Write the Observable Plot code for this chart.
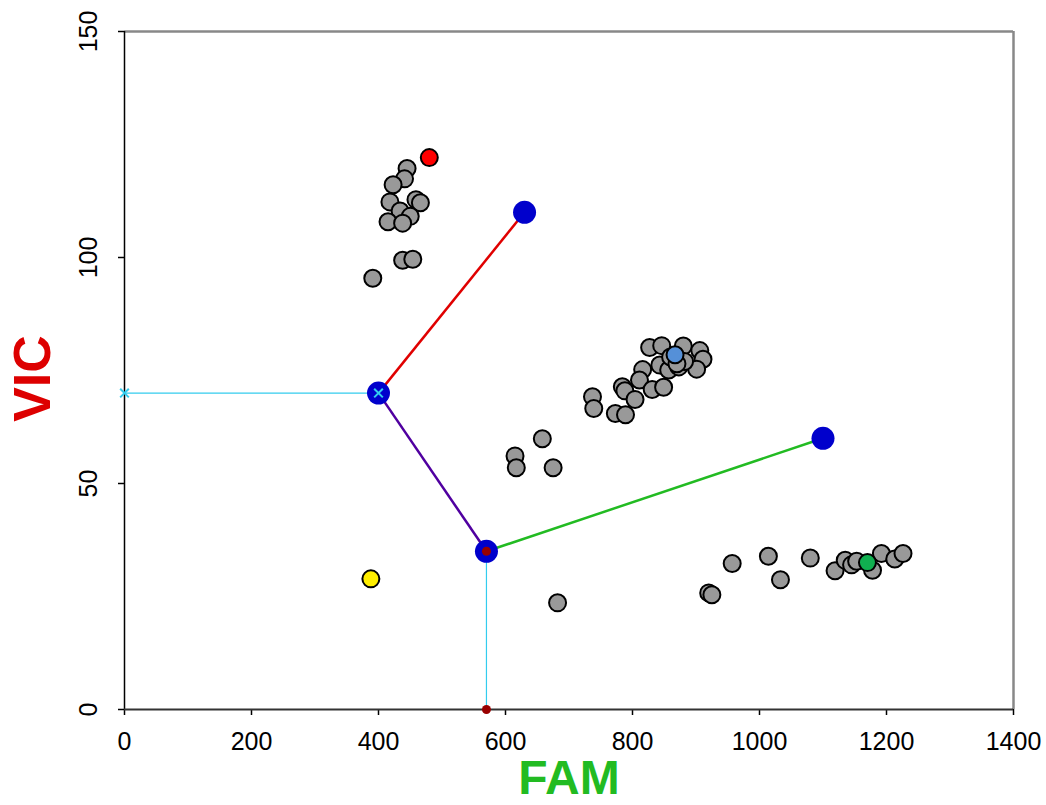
<!DOCTYPE html>
<html>
<head>
<meta charset="utf-8">
<script src="https://cdn.jsdelivr.net/npm/d3@7"></script>
<script src="https://cdn.jsdelivr.net/npm/@observablehq/plot@0.6"></script>
<style>
  html, body { margin: 0; padding: 0; background: #fff; }
  #chart svg { display: block; font-family: "Liberation Sans", Arial, sans-serif; }
</style>
</head>
<body>
<div id="chart"></div>
<script>
// Gray observations (FAM, VIC)
const grayFam = [445, 441, 423, 459, 466, 418, 434, 450, 415, 438, 438, 454, 391,
  827, 846, 880, 906, 911, 901, 843, 857, 873, 882, 816, 811, 784, 788, 831, 849, 804, 737, 739, 773, 789, 860, 870,
  615, 617, 658, 675, 682,
  920, 925, 957, 1014, 1033, 1080, 1119, 1135, 1145, 1153, 1178, 1192, 1213, 1226];
const grayVic = [119.7, 117.4, 116.1, 112.8, 112.1, 112.3, 110.3, 109.1, 107.9, 107.6, 99.4, 99.6, 95.4,
  80.1, 80.5, 80.4, 79.4, 77.5, 75.3, 76.2, 75.1, 75.8, 77, 75.2, 72.9, 71.4, 70.5, 70.8, 71.3, 68.6, 69.2, 66.6, 65.5, 65.2, 78, 76.5,
  56.1, 53.5, 59.9, 53.5, 23.6,
  25.8, 25.4, 32.3, 33.9, 28.7, 33.5, 30.7, 33.0, 32.0, 32.8, 30.8, 34.5, 33.3, 34.5];

// Highlighted observations
const highlightFam = [480, 867, 1170, 388];
const highlightVic = [122.1, 78.5, 32.5, 28.9];
const highlightColor = ["#ff0000", "#5590d8", "#10b050", "#ffee00"];

// Centroids
const centroidFam = [630, 400, 570, 1100];
const centroidVic = [110, 70, 35, 60];

// Tree edges: from (index) -> to (index) in centroid arrays
const edgeFrom = [1, 1, 2];
const edgeTo = [0, 2, 3];
const edgeColor = ["#e00000", "#5000a0", "#22bb22"];

// Projection guides
const guideFam = [[0, 400], [570, 570]];
const guideVic = [[70, 70], [35, 0]];
const crossFam = [0, 400];
const crossVic = [70, 70];
const dotFam = [570, 570];
const dotVic = [35, 0];

const xTicks = [0, 200, 400, 600, 800, 1000, 1200, 1400];
const yTicks = [0, 50, 100, 150];

const gray = grayFam.map((f, i) => ({fam: f, vic: grayVic[i]}));
const highlights = highlightFam.map((f, i) => ({fam: f, vic: highlightVic[i], c: highlightColor[i]}));
const centroids = centroidFam.map((f, i) => ({fam: f, vic: centroidVic[i]}));
const edges = edgeFrom.map((a, i) => ({x1: centroidFam[a], y1: centroidVic[a], x2: centroidFam[edgeTo[i]], y2: centroidVic[edgeTo[i]], c: edgeColor[i]}));
const guides = guideFam.map((g, i) => ({x1: g[0], x2: g[1], y1: guideVic[i][0], y2: guideVic[i][1]}));
const crosses = crossFam.map((f, i) => ({fam: f, vic: crossVic[i]}));
const dots = dotFam.map((f, i) => ({fam: f, vic: dotVic[i]}));

const chart = Plot.plot({
  width: 1046,
  height: 805,
  marginLeft: 124,
  marginRight: 33,
  marginTop: 31,
  marginBottom: 96,
  x: {domain: [0, 1400]},
  y: {domain: [0, 150]},
  style: {fontFamily: "Liberation Sans, Arial, sans-serif", background: "#fff"},
  marks: [
    // frame
    Plot.ruleY([150], {stroke: "#888", strokeWidth: 2.5}),
    Plot.ruleX([1400], {stroke: "#888", strokeWidth: 2.5}),
    Plot.axisX({ticks: xTicks, tickSize: 6, tickFormat: () => "", label: null, stroke: "#000", strokeWidth: 1.5}),
    Plot.axisY({ticks: yTicks, tickSize: 6, tickFormat: () => "", label: null, stroke: "#000", strokeWidth: 1.5}),
    Plot.ruleX([0], {stroke: "#000", strokeWidth: 1.5}),
    Plot.ruleY([0], {stroke: "#333", strokeWidth: 2}),
    // tick labels
    Plot.text(xTicks, {x: d => d, frameAnchor: "bottom", dy: 32, text: d => String(d), fontSize: 25, fill: "#000", lineAnchor: "middle"}),
    Plot.text(yTicks, {y: d => d, frameAnchor: "left", dx: -36, text: d => String(d), fontSize: 25, fill: "#000", rotate: -90, textAnchor: "middle", lineAnchor: "middle"}),
    // axis titles
    Plot.text(["FAM"], {frameAnchor: "bottom", dy: 69, text: d => d, fontSize: 48, fontWeight: "bold", fill: "#22bb22", textAnchor: "middle", lineAnchor: "middle"}),
    Plot.text(["VIC"], {frameAnchor: "left", dx: -91, dy: 8, text: d => d, fontSize: 52, fontWeight: "bold", fill: "#dd0000", rotate: -90, textAnchor: "middle", lineAnchor: "middle"}),
    // guides
    Plot.link(guides, {x1: "x1", y1: "y1", x2: "x2", y2: "y2", stroke: "#33ccee", strokeWidth: 1.2}),
    // edges
    Plot.link(edges, {x1: "x1", y1: "y1", x2: "x2", y2: "y2", stroke: "c", strokeWidth: 2.5}),
    // gray observations
    Plot.dot(gray, {x: "fam", y: "vic", r: 8.5, fill: "#999", stroke: "#000", strokeWidth: 2}),
    Plot.dot(highlights, {x: "fam", y: "vic", r: 8.5, fill: "c", stroke: "#000", strokeWidth: 2}),
    // centroids
    Plot.dot(centroids, {x: "fam", y: "vic", r: 11.5, fill: "#0000cc", stroke: "none"}),
    Plot.dot(crosses, {x: "fam", y: "vic", symbol: "times", r: 4, stroke: "#33ccee", strokeWidth: 2}),
    Plot.dot(dots, {x: "fam", y: "vic", r: 4.5, fill: "#990000", stroke: "none"})
  ]
});
document.getElementById("chart").appendChild(chart);
</script>
</body>
</html>
